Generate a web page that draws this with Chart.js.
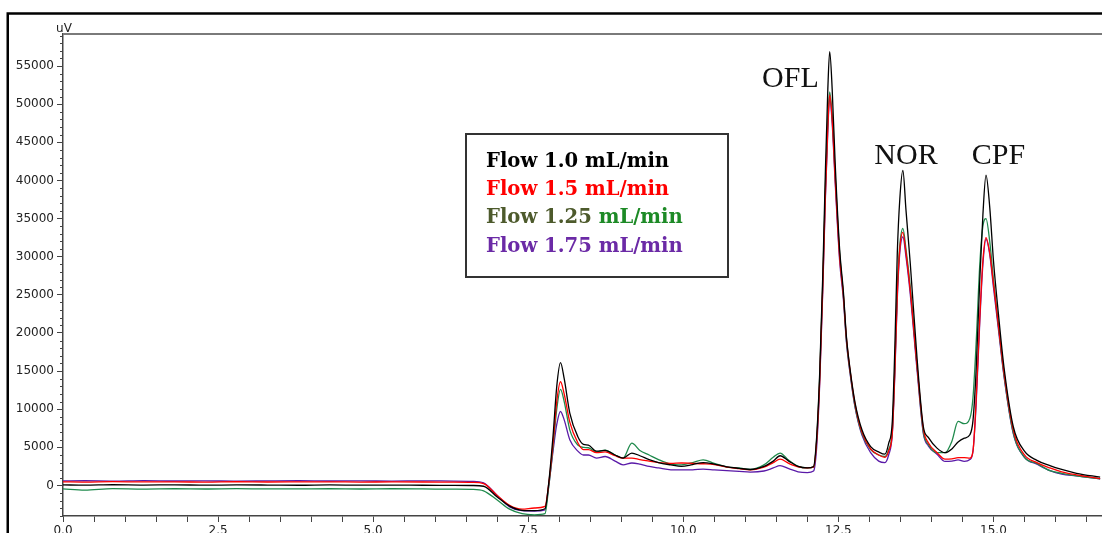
<!DOCTYPE html>
<html>
<head>
<meta charset="utf-8">
<script src="https://cdn.jsdelivr.net/npm/chart.js@4.4.0/dist/chart.umd.min.js"></script>
<style>
  html, body { margin: 0; padding: 0; background: #fff; }
  canvas { display: block; }
</style>
</head>
<body>
<canvas id="chromatogram" width="1102" height="533"></canvas>
<script>
// Retention time (min) shared by all four traces
const retentionTime = [
  0, 0.35, 0.8, 1.3, 1.8, 2.3, 2.8, 3.3, 3.8, 4.3,
  4.8, 5.3, 5.8, 6.3, 6.6, 6.78, 7.0, 7.2, 7.4, 7.6,
  7.77, 7.83, 7.9, 7.96, 8.02, 8.08, 8.17, 8.3, 8.39, 8.47,
  8.6, 8.74, 8.9, 9.03, 9.17, 9.3, 9.45, 9.6, 9.8, 9.97,
  10.15, 10.32, 10.5, 10.7, 10.9, 11.08, 11.3, 11.45, 11.56, 11.7,
  11.85, 12.0, 12.1, 12.15, 12.2, 12.25, 12.29, 12.33, 12.36, 12.4,
  12.45, 12.52, 12.58, 12.63, 12.69, 12.77, 12.88, 13.02, 13.15, 13.25,
  13.31, 13.37, 13.41, 13.45, 13.49, 13.54, 13.59, 13.66, 13.77, 13.87,
  13.95, 14.09, 14.22, 14.33, 14.43, 14.53, 14.62, 14.67, 14.72, 14.78,
  14.83, 14.88, 14.94, 15.0, 15.08, 15.17, 15.32, 15.5, 15.7, 15.91,
  16.1, 16.34, 16.72
];

// Detector response (uV) for each flow rate
const flow100 = [
  80, 40, 100, 60, 90, 40, 80, 60, 30, 80,
  40, 60, 30, 20, 0, -100, -1500, -2700, -3250, -3300,
  -3050, 300, 6500, 13000, 16100, 14000, 9500, 6400, 5400, 5300,
  4500, 4600, 4000, 3600, 4250, 3900, 3400, 3000, 2700, 2500,
  2750, 3000, 2800, 2450, 2250, 2100, 2500, 3200, 3900, 3200,
  2500, 2300, 2500, 6400, 15000, 28000, 41000, 52000, 56900, 52000,
  42000, 31000, 25500, 19500, 15150, 10800, 7300, 5100, 4400, 4100,
  5500, 8500, 18000, 30500, 37500, 41300, 36100, 29000, 16500, 7700,
  6300, 4900, 4300, 4800, 5700, 6200, 6650, 8500, 15000, 27000,
  35500, 40700, 36500, 29500, 22500, 15500, 7700, 4500, 3300, 2600,
  2100, 1600, 1100
];
const flow150 = [
  480, 450, 500, 470, 480, 440, 490, 460, 470, 480,
  450, 470, 460, 430, 400, 250, -1300, -2600, -3100, -2950,
  -2750, 200, 5500, 11000, 13600, 12000, 8300, 5600, 4700, 4700,
  4300, 4400, 3900, 3600, 3600, 3400, 3200, 3000, 2900, 2950,
  2900, 2850, 2750, 2400, 2200, 2050, 2400, 3000, 3450, 2900,
  2450, 2300, 2400, 5800, 14000, 26500, 38000, 47000, 51200, 48000,
  40000, 30000, 25000, 19300, 15000, 10600, 7000, 4800, 4000, 3700,
  4500, 7000, 15000, 25000, 31000, 33200, 30500, 25500, 15500, 7400,
  5600, 4300, 3450, 3500, 3650, 3650, 3600, 4500, 11000, 22000,
  29500, 32500, 30500, 26500, 21000, 14800, 7300, 4000, 3000, 2300,
  1800, 1400, 900
];
const flow125 = [
  -450, -600, -420, -470, -430, -460, -420, -450, -440, -430,
  -460, -430, -450, -480, -500, -700, -1900, -3100, -3700, -3840,
  -3700, -200, 5000, 10000, 12600, 11000, 7300, 5300, 5000, 4950,
  4400, 4650, 4000, 3600, 5550, 4600, 4000, 3400, 2800, 2700,
  3000, 3350, 2900, 2450, 2300, 2100, 2700, 3700, 4250, 3300,
  2500, 2300, 2400, 6000, 14500, 27000, 39000, 48000, 51600, 48500,
  40500, 30500, 25000, 19000, 14800, 10300, 6800, 4700, 4000, 3800,
  4700, 7300, 15500, 26000, 31500, 33700, 31000, 26000, 15500, 7000,
  5400, 4300, 4300, 5800, 8400, 8100, 8800, 11500, 18500, 29000,
  34000, 35000, 32000, 27000, 21000, 14500, 6900, 3700, 2900, 1950,
  1600, 1270, 880
];
const flow175 = [
  600, 620, 580, 640, 590, 610, 570, 600, 620, 590,
  600, 580, 610, 580, 550, 350, -1300, -2800, -3300, -3350,
  -3200, -100, 4500, 8000, 9700, 8600, 6000, 4500, 4000, 4000,
  3600, 3800, 3200, 2700, 2950, 2800, 2500, 2300, 2050, 2050,
  2050, 2150, 2050, 1950, 1850, 1750, 1900, 2300, 2600, 2200,
  1800, 1700, 1900, 5000, 13500, 26000, 37500, 46500, 50800, 47500,
  39500, 29500, 24500, 18800, 14600, 10200, 6600, 4300, 3200, 3000,
  4000, 6800, 14500, 24500, 30500, 32600, 30000, 25000, 15000, 6800,
  5200, 4100, 3150, 3200, 3350, 3150, 3400, 4500, 10500, 21500,
  29000, 32300, 30300, 26000, 20500, 14300, 6800, 3700, 2800, 1950,
  1500, 1270, 880
];

const seriesNames = ['Flow 1.0 mL/min', 'Flow 1.5 mL/min', 'Flow 1.25 mL/min', 'Flow 1.75 mL/min'];
const seriesValues = [flow100, flow150, flow125, flow175];
const lineColors = ['#000000', '#ff0000', '#1f8a4c', '#5a1aa8'];

// Peak names and the (time, response) anchor of each name's text
const peakNames = ['OFL', 'NOR', 'CPF'];
const peakLabelTime = [11.27, 13.08, 14.65];
const peakLabelLevel = [52300, 42200, 42200];

const yTickValues = [0, 5000, 10000, 15000, 20000, 25000, 30000, 35000, 40000, 45000, 50000, 55000];
const xLabelTicks = [0, 2.5, 5, 7.5, 10, 12.5, 15];

const X_MIN = 0, X_MAX = 16.75, Y_MIN = -4000, Y_MAX = 59200;
const AXIS_FONT = { family: '"DejaVu Sans", sans-serif', size: 12 };

const datasets = seriesNames.map((name, i) => ({
  label: name,
  data: retentionTime.map((t, k) => ({ x: t, y: seriesValues[i][k] })),
  borderColor: lineColors[i],
  borderWidth: 1.3,
  pointRadius: 0,
  fill: false,
  cubicInterpolationMode: 'monotone'
}));

const decorations = {
  id: 'decorations',
  beforeDraw(chart) {
    const ctx = chart.ctx;
    ctx.save();
    ctx.fillStyle = '#ffffff';
    ctx.fillRect(0, 0, chart.width, chart.height);
    ctx.restore();
  },
  afterDraw(chart) {
    const { ctx, chartArea: a, scales: { x, y } } = chart;
    ctx.save();

    // outer frame (left and top)
    ctx.strokeStyle = '#000';
    ctx.lineWidth = 2.5;
    ctx.beginPath();
    ctx.moveTo(7.75, chart.height);
    ctx.lineTo(7.75, 13.5);
    ctx.lineTo(chart.width, 13.5);
    ctx.stroke();

    // top rule of the plot
    ctx.strokeStyle = '#7a7a7a';
    ctx.lineWidth = 2;
    ctx.beginPath();
    ctx.moveTo(a.left, a.top);
    ctx.lineTo(a.right, a.top);
    ctx.stroke();

    // minor y ticks every 1000 uV
    ctx.strokeStyle = '#444';
    ctx.lineWidth = 1;
    ctx.beginPath();
    for (let v = -4000; v <= Y_MAX; v += 1000) {
      if (v % 5000 === 0) continue;
      const py = Math.round(y.getPixelForValue(v)) + 0.5;
      ctx.moveTo(a.left - 3, py);
      ctx.lineTo(a.left, py);
    }
    ctx.stroke();

    // unit label
    ctx.fillStyle = '#222';
    ctx.font = '12px "DejaVu Sans", sans-serif';
    ctx.textAlign = 'center';
    ctx.textBaseline = 'alphabetic';
    ctx.fillText('uV', a.left + 1, 32);

    // peak names
    ctx.fillStyle = '#111';
    ctx.font = '30px "Liberation Serif", serif';
    ctx.textAlign = 'left';
    peakNames.forEach((n, i) => {
      ctx.fillText(n, x.getPixelForValue(peakLabelTime[i]), y.getPixelForValue(peakLabelLevel[i]));
    });

    // legend box
    const bx = 466, by = 134, bw = 262, bh = 143;
    ctx.fillStyle = '#fff';
    ctx.fillRect(bx, by, bw, bh);
    ctx.strokeStyle = '#333';
    ctx.lineWidth = 2;
    ctx.strokeRect(bx, by, bw, bh);

    const legendParts = [
      [[seriesNames[0], '#000000']],
      [[seriesNames[1], '#ff0000']],
      [['Flow 1.25 ', '#4d5a2c'], ['mL/min', '#1d8a26']],
      [[seriesNames[3], '#6b2aa6']]
    ];
    ctx.font = 'bold 19.6px "DejaVu Serif", serif';
    ctx.textBaseline = 'alphabetic';
    legendParts.forEach((parts, i) => {
      let tx = bx + 20;
      const ty = by + 32.5 + i * 28.4;
      parts.forEach(([txt, col]) => {
        ctx.fillStyle = col;
        ctx.fillText(txt, tx, ty);
        tx += ctx.measureText(txt).width;
      });
    });

    ctx.restore();
  }
};

new Chart(document.getElementById('chromatogram'), {
  type: 'line',
  data: { datasets },
  plugins: [decorations],
  options: {
    responsive: false,
    animation: false,
    events: [],
    layout: { padding: { top: 34, left: 0, right: 0, bottom: 0 } },
    plugins: { legend: { display: false }, tooltip: { enabled: false } },
    scales: {
      x: {
        type: 'linear',
        min: X_MIN,
        max: X_MAX,
        afterBuildTicks(scale) {
          const ticks = [];
          for (let k = 0; k <= 33; k++) ticks.push({ value: k * 0.5 });
          scale.ticks = ticks;
        },
        afterFit(scale) { scale.height = 17; },
        grid: { drawOnChartArea: false, tickLength: 6, tickColor: '#444', tickWidth: 1 },
        border: { display: true, color: '#444', width: 1.5 },
        ticks: {
          autoSkip: false,
          maxRotation: 0,
          padding: 2,
          color: '#222',
          font: AXIS_FONT,
          callback: (v) => xLabelTicks.includes(v) ? v.toFixed(1) : ''
        }
      },
      y: {
        type: 'linear',
        min: Y_MIN,
        max: Y_MAX,
        afterBuildTicks(scale) { scale.ticks = yTickValues.map(v => ({ value: v })); },
        afterFit(scale) { scale.width = 63; },
        grid: { drawOnChartArea: false, tickLength: 6, tickColor: '#444', tickWidth: 1 },
        border: { display: true, color: '#444', width: 1.5 },
        ticks: { padding: 3, color: '#222', font: AXIS_FONT, callback: (v) => String(v) }
      }
    }
  }
});
</script>
</body>
</html>
